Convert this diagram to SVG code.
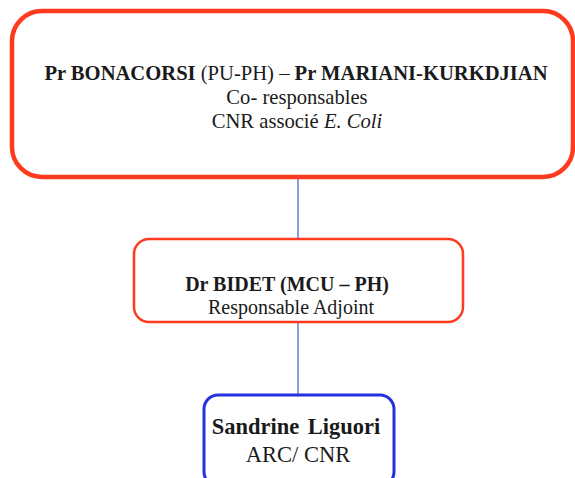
<svg xmlns="http://www.w3.org/2000/svg" width="575" height="478" viewBox="0 0 575 478">
<style>
text{font-family:"Liberation Serif","Times New Roman",serif;fill:#1a1a1a;text-anchor:middle}
.b{font-weight:bold}
.red{fill:#fff;stroke:#ff3b1f}
.blue{fill:#fff;stroke:#2233dd}
.conn{stroke:#5b87c5;stroke-width:1.5;fill:none}
</style>
<rect width="575" height="478" fill="#fff"/>
<g id="connectors">
<line class="conn" x1="298" y1="177" x2="298" y2="239"/>
<line class="conn" x1="298" y1="322" x2="298" y2="396"/>
</g>
<g id="node-top">
<rect class="red" x="12" y="11" width="561" height="166" rx="30" stroke-width="4.5"/>
<text x="296" y="80" font-size="20.6"><tspan class="b">Pr BONACORSI</tspan> (PU-PH) – <tspan class="b">Pr MARIANI-KURKDJIAN</tspan></text>
<text x="297" y="104" font-size="20.6">Co- responsables</text>
<text x="297" y="128" font-size="20.6">CNR associé <tspan font-style="italic">E. Coli</tspan></text>
</g>
<g id="node-mid">
<rect class="red" x="134" y="239" width="329" height="83" rx="15" stroke-width="2.5"/>
<text class="b" x="287" y="291" font-size="20">Dr BIDET (MCU – PH)</text>
<text x="291" y="314" font-size="20">Responsable Adjoint</text>
</g>
<g id="node-bottom">
<rect class="blue" x="204" y="395" width="190" height="91" rx="14" stroke-width="3"/>
<text class="b" x="296" y="434" font-size="22.5" word-spacing="3">Sandrine Liguori</text>
<text x="298" y="462" font-size="22.5">ARC/ CNR</text>
</g>
</svg>
